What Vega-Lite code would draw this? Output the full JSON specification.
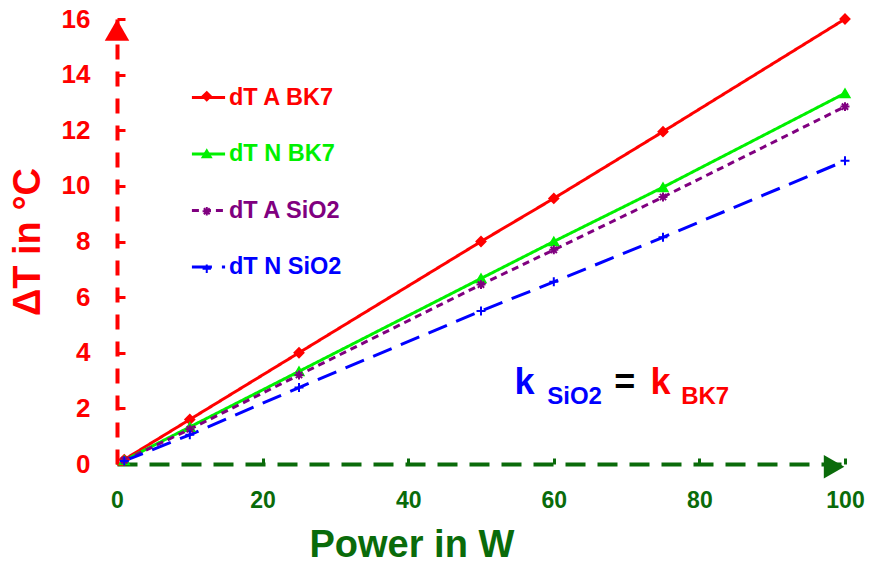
{
  "$schema": "https://vega.github.io/schema/vega-lite/v6.json",
  "width": 728,
  "height": 445,
  "padding": {"left": 9, "top": 6, "right": 10, "bottom": 3},
  "config": {"view": {"stroke": null}, "font": "Liberation Sans"},
  "data": {"values": [
    {"P": 1, "dT": 0.16, "series": "dT A BK7"},
    {"P": 10, "dT": 1.6, "series": "dT A BK7"},
    {"P": 25, "dT": 4.0, "series": "dT A BK7"},
    {"P": 50, "dT": 8.0, "series": "dT A BK7"},
    {"P": 60, "dT": 9.55, "series": "dT A BK7"},
    {"P": 75, "dT": 11.95, "series": "dT A BK7"},
    {"P": 100, "dT": 16.0, "series": "dT A BK7"},
    {"P": 1, "dT": 0.13, "series": "dT N BK7"},
    {"P": 10, "dT": 1.33, "series": "dT N BK7"},
    {"P": 25, "dT": 3.33, "series": "dT N BK7"},
    {"P": 50, "dT": 6.67, "series": "dT N BK7"},
    {"P": 60, "dT": 8.0, "series": "dT N BK7"},
    {"P": 75, "dT": 9.95, "series": "dT N BK7"},
    {"P": 100, "dT": 13.33, "series": "dT N BK7"},
    {"P": 1, "dT": 0.13, "series": "dT A SiO2"},
    {"P": 10, "dT": 1.25, "series": "dT A SiO2"},
    {"P": 25, "dT": 3.2, "series": "dT A SiO2"},
    {"P": 50, "dT": 6.45, "series": "dT A SiO2"},
    {"P": 60, "dT": 7.7, "series": "dT A SiO2"},
    {"P": 75, "dT": 9.6, "series": "dT A SiO2"},
    {"P": 100, "dT": 12.85, "series": "dT A SiO2"},
    {"P": 1, "dT": 0.11, "series": "dT N SiO2"},
    {"P": 10, "dT": 1.05, "series": "dT N SiO2"},
    {"P": 25, "dT": 2.75, "series": "dT N SiO2"},
    {"P": 50, "dT": 5.5, "series": "dT N SiO2"},
    {"P": 60, "dT": 6.55, "series": "dT N SiO2"},
    {"P": 75, "dT": 8.15, "series": "dT N SiO2"},
    {"P": 100, "dT": 10.9, "series": "dT N SiO2"}
  ]},
  "encoding": {
    "x": {
      "field": "P", "type": "quantitative",
      "scale": {"domain": [0, 100], "nice": false, "zero": true},
      "axis": {
        "title": "Power in W",
        "values": [0, 20, 40, 60, 80, 100],
        "grid": false,
        "domainColor": "#0a6b0a", "domainWidth": 4, "domainDash": [20, 12],
        "tickColor": "#0a6b0a", "tickWidth": 3, "tickSize": -6,
        "labelColor": "#0a6b0a", "labelFont": "Liberation Sans", "labelFontSize": 23, "labelFontWeight": "bold",
        "labelPadding": 31, "labelFlush": false,
        "titleColor": "#0a6b0a", "titleFont": "Liberation Sans", "titleFontSize": 38, "titleFontWeight": "bold",
        "titlePadding": 14, "titleAnchor": "start", "titleX": 192
      }
    },
    "y": {
      "field": "dT", "type": "quantitative",
      "scale": {"domain": [0, 16], "nice": false},
      "axis": {
        "title": "ΔT in °C",
        "values": [0, 2, 4, 6, 8, 10, 12, 14, 16],
        "grid": false,
        "domainColor": "#ff0000", "domainWidth": 4, "domainDash": [15, 12],
        "tickColor": "#ff0000", "tickWidth": 3, "tickSize": -8,
        "labelColor": "#ff0000", "labelFont": "Liberation Sans", "labelFontSize": 26, "labelFontWeight": "bold",
        "labelPadding": 35, "labelFlush": false,
        "titleColor": "#ff0000", "titleFont": "Liberation Sans", "titleFontSize": 38, "titleFontWeight": "bold",
        "titlePadding": 14
      }
    }
  },
  "layer": [
    {
      "mark": {"type": "line", "strokeWidth": 3},
      "encoding": {
        "color": {
          "field": "series", "type": "nominal",
          "scale": {"domain": ["dT A BK7", "dT N BK7", "dT A SiO2", "dT N SiO2"], "range": ["#ff0000", "#00f000", "#800080", "#0000ff"]},
          "legend": {
            "title": null, "orient": "none", "legendX": 73, "legendY": 60,
            "symbolType": "stroke", "symbolSize": 1100, "symbolStrokeWidth": 3,
            "rowPadding": 26.5, "labelOffset": 2,
            "labelFont": "Liberation Sans", "labelFontSize": 23.5, "labelFontWeight": "bold",
            "labelColor": {"expr": "datum.value == 'dT A BK7' ? '#ff0000' : datum.value == 'dT N BK7' ? '#00f000' : datum.value == 'dT A SiO2' ? '#800080' : '#0000ff'"}
          }
        },
        "strokeDash": {
          "field": "series", "type": "nominal",
          "scale": {"domain": ["dT A BK7", "dT N BK7", "dT A SiO2", "dT N SiO2"], "range": [[1, 0], [1, 0], [7, 5], [20, 10]]},
          "legend": null
        }
      }
    },
    {
      "transform": [{"calculate": "datum.series + ' '", "as": "marker"}],
      "mark": {"type": "point", "filled": true, "strokeWidth": 2, "size": 80, "opacity": 1},
      "encoding": {
        "shape": {
          "field": "marker", "type": "nominal",
          "scale": {"domain": ["dT A BK7 ", "dT N BK7 ", "dT A SiO2 ", "dT N SiO2 "], "range": ["diamond", "triangle-up", "M-1,0H1M0,-1V1M-0.7,-0.7L0.7,0.7M-0.7,0.7L0.7,-0.7", "M-1,0H1M0,-1V1"]},
          "legend": {
            "title": null, "orient": "none", "legendX": 78, "legendY": 65.5,
            "symbolSize": 70, "symbolStrokeWidth": 2,
            "rowPadding": 32.5, "labelOffset": 2,
            "labelFont": "Liberation Sans", "labelFontSize": 23.5, "labelFontWeight": "bold",
            "labelExpr": "''"
          }
        },
        "fill": {"field": "marker", "type": "nominal",
          "scale": {"domain": ["dT A BK7 ", "dT N BK7 ", "dT A SiO2 ", "dT N SiO2 "], "range": ["#ff0000", "#00f000", "#800080", "#0000ff"]}},
        "stroke": {"field": "marker", "type": "nominal",
          "scale": {"domain": ["dT A BK7 ", "dT N BK7 ", "dT A SiO2 ", "dT N SiO2 "], "range": ["#ff0000", "#00f000", "#800080", "#0000ff"]}}
      }
    },
    {
      "transform": [{"filter": "datum.P == 100 && datum.series == 'dT A BK7'"}],
      "mark": {"type": "point", "shape": "triangle-up", "filled": true, "color": "#ff0000", "size": 600, "opacity": 1},
      "encoding": {"x": {"datum": 0}, "y": {"datum": 15.6}}
    },
    {
      "transform": [{"filter": "datum.P == 100 && datum.series == 'dT A BK7'"}],
      "mark": {"type": "point", "shape": "triangle-right", "filled": true, "color": "#0a6b0a", "size": 560, "opacity": 1},
      "encoding": {"x": {"datum": 98.5}, "y": {"datum": -0.1}}
    },
    {
      "transform": [{"filter": "datum.P == 100 && datum.series == 'dT A BK7'"}],
      "mark": {"type": "text", "text": "k", "align": "left", "baseline": "alphabetic", "font": "Liberation Sans", "fontSize": 36, "fontWeight": "bold", "color": "#0000ff"},
      "encoding": {"x": {"datum": 54.6}, "y": {"datum": 2.52}}
    },
    {
      "transform": [{"filter": "datum.P == 100 && datum.series == 'dT A BK7'"}],
      "mark": {"type": "text", "text": "SiO2", "align": "left", "baseline": "alphabetic", "font": "Liberation Sans", "fontSize": 24, "fontWeight": "bold", "color": "#0000ff"},
      "encoding": {"x": {"datum": 59.1}, "y": {"datum": 2.16}}
    },
    {
      "transform": [{"filter": "datum.P == 100 && datum.series == 'dT A BK7'"}],
      "mark": {"type": "text", "text": "=", "align": "left", "baseline": "alphabetic", "font": "Liberation Sans", "fontSize": 36, "fontWeight": "bold", "color": "#000000"},
      "encoding": {"x": {"datum": 68.3}, "y": {"datum": 2.52}}
    },
    {
      "transform": [{"filter": "datum.P == 100 && datum.series == 'dT A BK7'"}],
      "mark": {"type": "text", "text": "k", "align": "left", "baseline": "alphabetic", "font": "Liberation Sans", "fontSize": 36, "fontWeight": "bold", "color": "#ff0000"},
      "encoding": {"x": {"datum": 73.3}, "y": {"datum": 2.52}}
    },
    {
      "transform": [{"filter": "datum.P == 100 && datum.series == 'dT A BK7'"}],
      "mark": {"type": "text", "text": "BK7", "align": "left", "baseline": "alphabetic", "font": "Liberation Sans", "fontSize": 24, "fontWeight": "bold", "color": "#ff0000"},
      "encoding": {"x": {"datum": 77.5}, "y": {"datum": 2.16}}
    }
  ]
}
